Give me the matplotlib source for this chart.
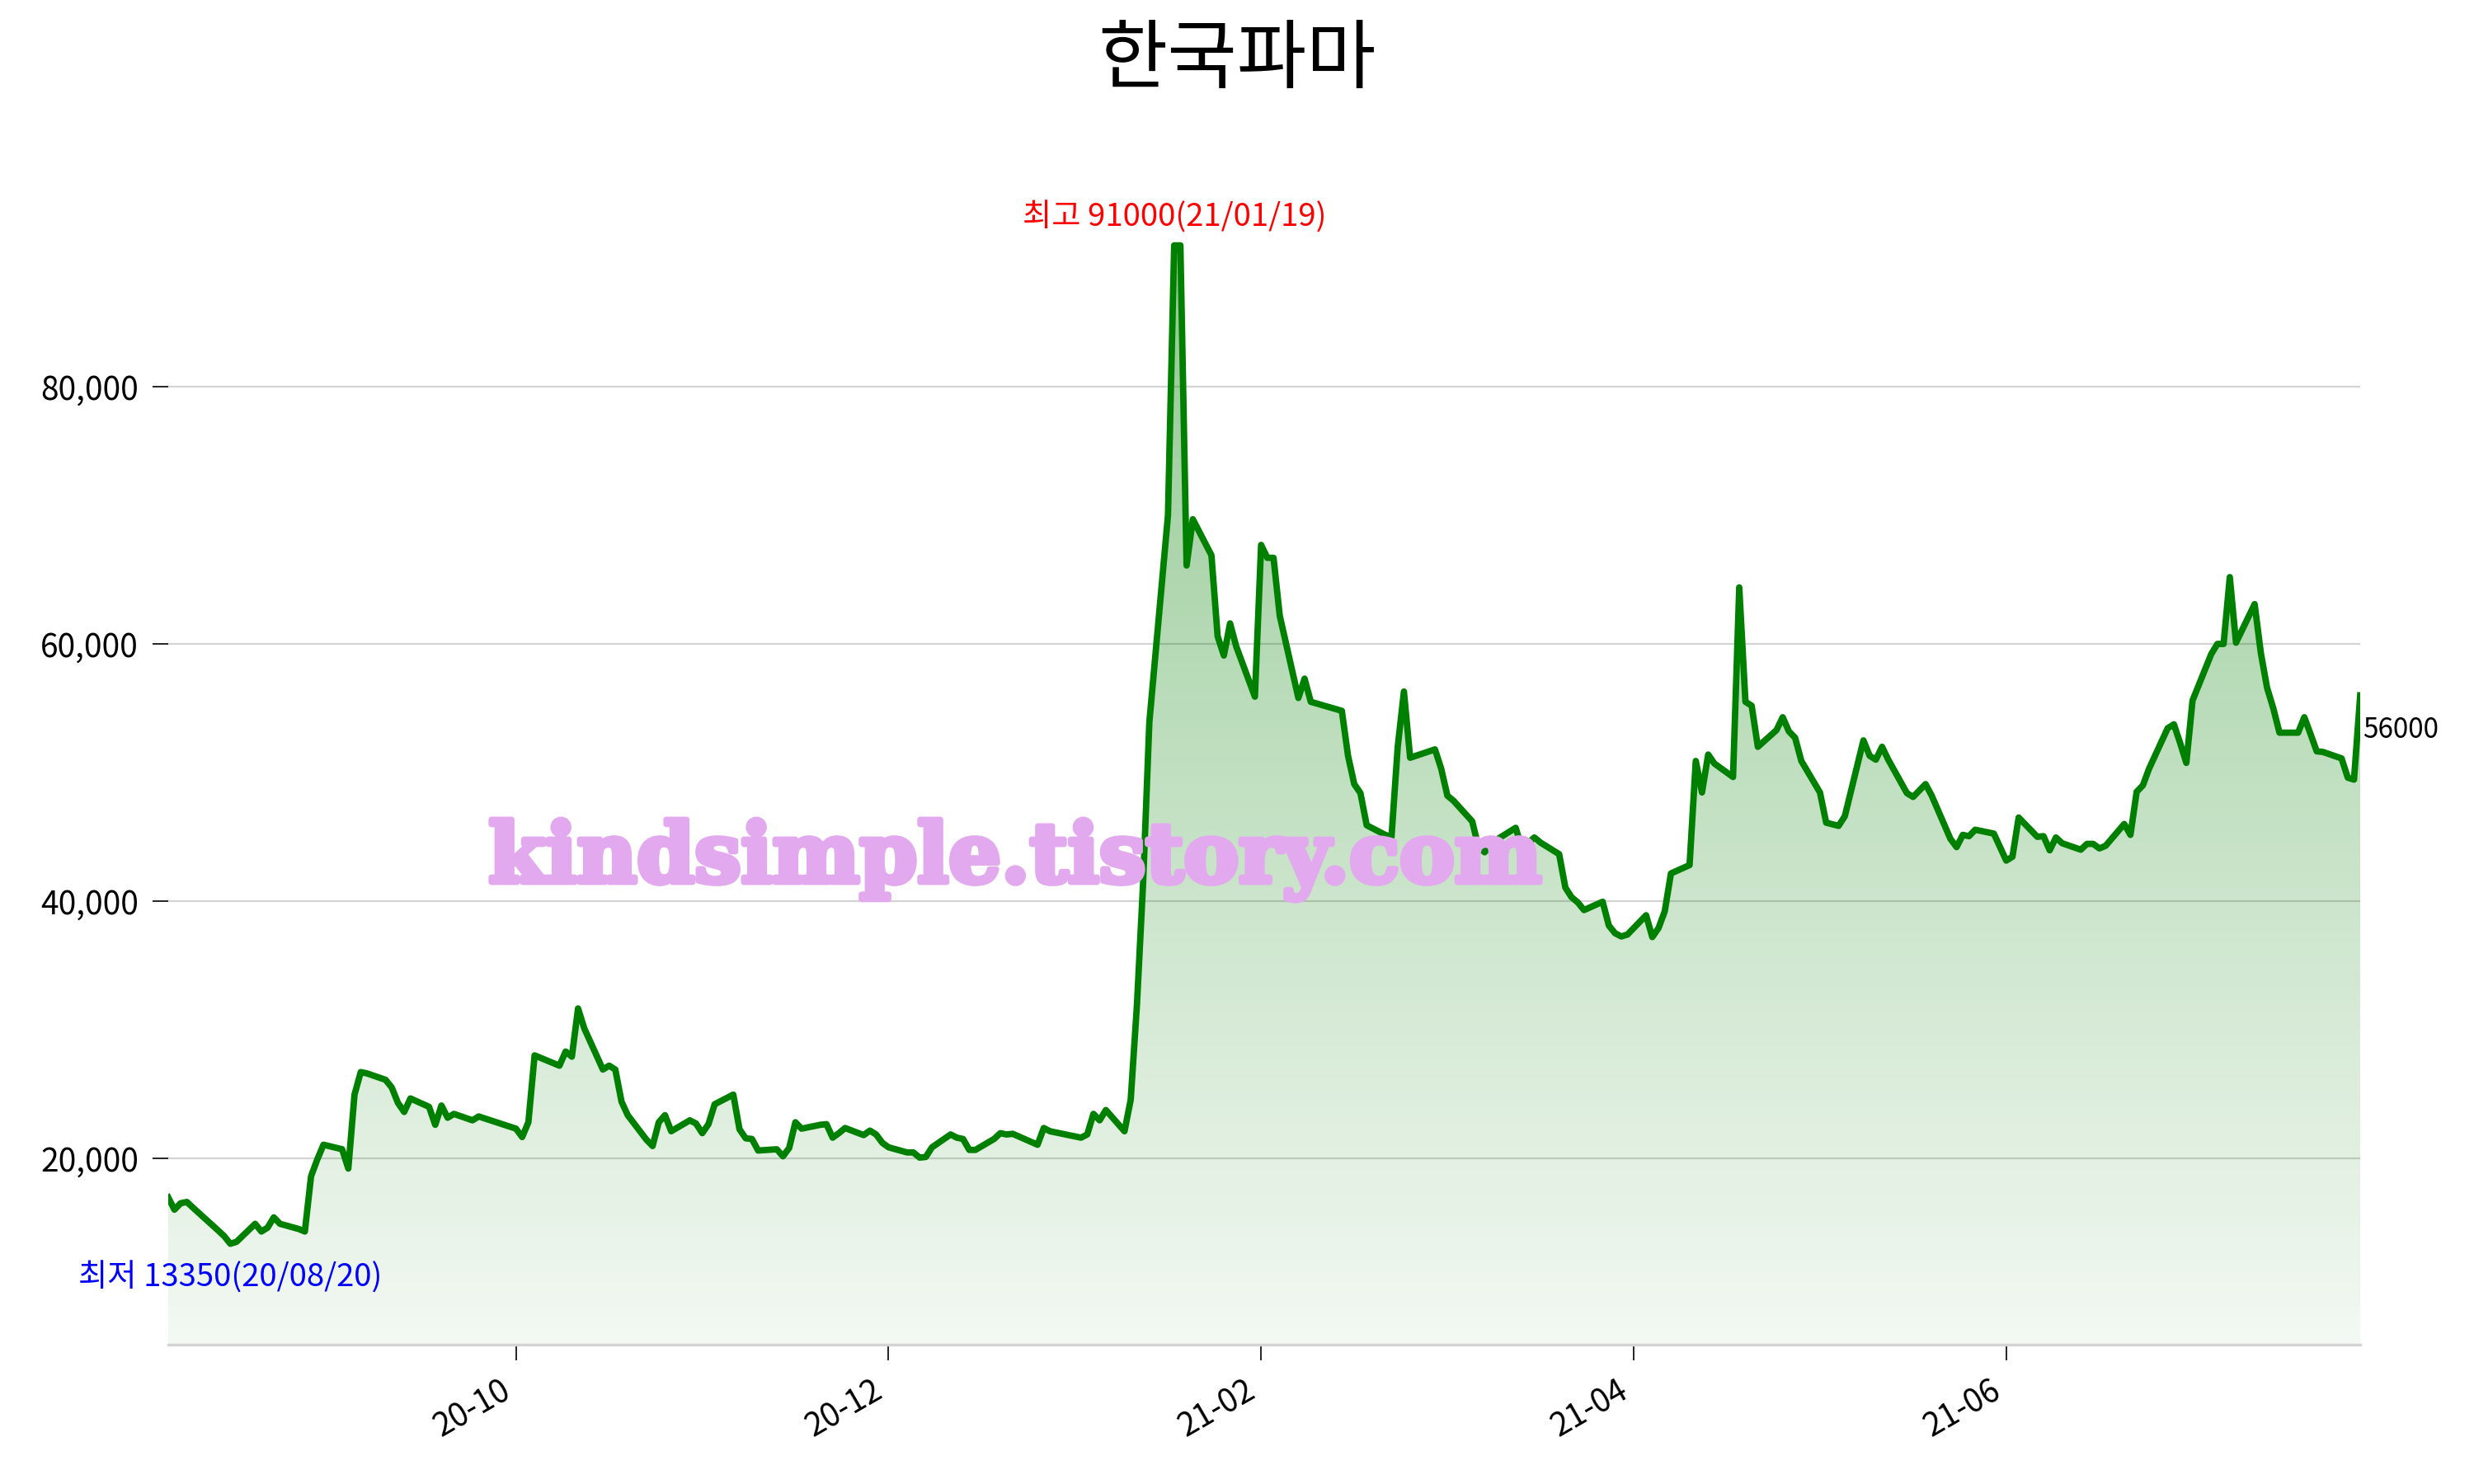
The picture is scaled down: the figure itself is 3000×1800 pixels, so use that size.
import numpy as np
import pandas as pd
import matplotlib
matplotlib.use('Agg')
import matplotlib.pyplot as plt
import matplotlib.dates as mdates
import matplotlib.patheffects as pe
from matplotlib.patches import Polygon
from matplotlib.ticker import FuncFormatter

# ---------------- data ----------------
title = '한국파마'
start_date = '2020-08-10'
end_date = '2021-07-29'
krx_holidays = ['2020-08-17', '2020-09-30', '2020-10-01', '2020-10-02', '2020-10-09',
                '2020-12-25', '2020-12-31', '2021-01-01', '2021-02-11', '2021-02-12',
                '2021-03-01', '2021-05-05', '2021-05-19']

close_2020_08 = [16950, 16000, 16500, 16600, 16150, 14400, 13950, 13350, 13500, 14900,
                 14300, 14600, 15400, 14900, 14500]
close_2020_09 = [14300, 18600, 19900, 21050, 20700, 19200, 24950, 26700, 26600, 26100,
                 25500, 24300, 23600, 24650, 24000, 22600, 24100, 23150, 23450, 22950, 23250]
close_2020_10 = [22300, 21650, 22800, 28000, 27200, 28300, 27900, 31650, 30100, 26900,
                 27200, 26900, 24400, 23350, 21450, 20950, 22800, 23350, 22100]
close_2020_11 = [22950, 22700, 21950, 22650, 24200, 24950, 22250, 21550, 21500, 20600,
                 20700, 20150, 20800, 22800, 22300, 22600, 22650, 21600, 21950, 22350, 21800]
close_2020_12 = [22150, 21850, 21200, 20850, 20450, 20450, 20050, 20100, 20850, 21850,
                 21600, 21500, 20650, 20650, 21500, 21950, 21850, 21900, 21050, 22350, 22100]
close_2021_01 = [21600, 21850, 23450, 22950, 23750, 22100, 24550, 31900, 41450, 53900,
                 70000, 91000, 91000, 66100, 69700, 66900, 60600, 59100, 61600, 59800]
close_2021_02 = [55900, 67700, 66700, 66700, 62200, 55800, 57300, 55500, 54800, 51300,
                 49100, 48400, 45900, 45150, 45000, 52000, 56300, 51150]
close_2021_03 = [51800, 50300, 48200, 47800, 46200, 44200, 43800, 44400, 44800, 45700,
                 44100, 44500, 44950, 44550, 43650, 41050, 40300, 39900, 39300, 39950,
                 38100, 37500]
close_2021_04 = [37250, 37400, 38900, 37200, 37900, 39200, 42150, 42800, 50900, 48450,
                 51400, 50700, 49650, 64400, 55500, 55200, 52000, 53300, 54300, 53200,
                 52700, 50900]
close_2021_05 = [48450, 46100, 45850, 46600, 52500, 51300, 51000, 52000, 51000, 48400,
                 48100, 49100, 48200, 44850, 44200, 45150, 45050, 45550, 45250]
close_2021_06 = [44200, 43150, 43450, 46500, 45000, 45050, 43950, 44950, 44500, 44000,
                 44450, 44450, 44100, 44300, 46000, 45150, 48500, 49000, 50300, 53450,
                 53750, 52300]
close_2021_07 = [50750, 55600, 59200, 60000, 60000, 65200, 60100, 63100, 59300, 56600,
                 55000, 53100, 53100, 54300, 53000, 51650, 51600, 51100, 49600, 49450, 56000]

tick_dates = ['2020-10-05', '2020-12-04', '2021-02-02', '2021-04-03', '2021-06-02']
y_ticks = [20000, 40000, 60000, 80000]
watermark = 'kindsimple.tistory.com'

# ---------------- build series ----------------
dates = pd.bdate_range(start_date, end_date)
dates = dates[~dates.isin(pd.to_datetime(krx_holidays))]
close = np.array(close_2020_08 + close_2020_09 + close_2020_10 + close_2020_11 +
                 close_2020_12 + close_2021_01 + close_2021_02 + close_2021_03 +
                 close_2021_04 + close_2021_05 + close_2021_06 + close_2021_07, dtype=float)
assert len(dates) == len(close), (len(dates), len(close))

plt.rcParams['font.family'] = ['Noto Sans CJK KR', 'DejaVu Sans']

W, H = 3000, 1800
fig = plt.figure(figsize=(15, 9), dpi=200)
ax = fig.add_axes([204 / W, 1 - 1631 / H, (2862 - 204) / W, (1631 - 176) / H])

x = mdates.date2num(dates)
y_bottom, y_top = 5500, 98800

# gradient fill under the line
grad = np.zeros((256, 1, 4))
grad[..., 1] = 0.5
grad[..., 3] = np.linspace(0.05, 0.43, 256)[:, None]
im = ax.imshow(grad, aspect='auto', origin='lower',
               extent=[x[0], x[-1], y_bottom, close.max()], zorder=2,
               interpolation='bilinear')
poly = Polygon(np.column_stack([np.r_[x[0], x, x[-1]], np.r_[y_bottom, close, y_bottom]]),
               closed=True, facecolor='none', edgecolor='none', transform=ax.transData)
ax.add_patch(poly)
im.set_clip_path(poly)

ax.plot(x, close, color='green', lw=2.8, zorder=3)

ax.set_xlim(x[0], x[-1])
ax.set_ylim(y_bottom, y_top)

# grid / spines
ax.set_axisbelow(True)
ax.yaxis.grid(True, color='#d3d3d3', lw=0.8)
for s in ['left', 'top', 'right']:
    ax.spines[s].set_visible(False)
ax.spines['bottom'].set_color('#d3d3d3')
ax.spines['bottom'].set_linewidth(1.2)

# ticks
ax.set_xticks(mdates.date2num(pd.to_datetime(tick_dates)))
ax.xaxis.set_major_formatter(mdates.DateFormatter('%y-%m'))
ax.set_yticks(y_ticks)
ax.yaxis.set_major_formatter(FuncFormatter(lambda v, p: f'{v:,.0f}'))
ax.tick_params(axis='both', length=7, width=0.6, color='black', labelsize=14, pad=6)
plt.setp(ax.get_xticklabels(), rotation=30, ha='right')

# annotations
imax = int(np.argmax(close))
imin = int(np.argmin(close))
ax.annotate(f'최고 {int(close[imax])}({dates[imax]:%y/%m/%d})', xy=(x[imax], close[imax]),
            xytext=(0, 5), textcoords='offset points', ha='center', va='bottom',
            color='red', fontsize=13.8, zorder=5)
ax.annotate(f'최저 {int(close[imin])}({dates[imin]:%y/%m/%d})', xy=(x[imin], close[imin]),
            xytext=(0, -8), textcoords='offset points', ha='center', va='top',
            color='blue', fontsize=13.8, zorder=5)
ax.annotate(f'{int(close[-1])}', xy=(x[-1], close[-1]), xytext=(1, -9),
            textcoords='offset points', ha='left', va='top', fontsize=12,
            color='black', annotation_clip=False, zorder=5)

# title & watermark
fig.text(0.5, 1 - 74 / H, title, ha='center', va='center', fontsize=33)
fig.text(1231 / W, 1 - 1043 / H, watermark, ha='center', va='center', fontsize=36,
         family='DejaVu Serif', weight='bold', color='#e3a9ef', zorder=10,
         path_effects=[pe.withStroke(linewidth=2.5, foreground='#e3a9ef')])

fig.savefig('out.png', dpi=200)
